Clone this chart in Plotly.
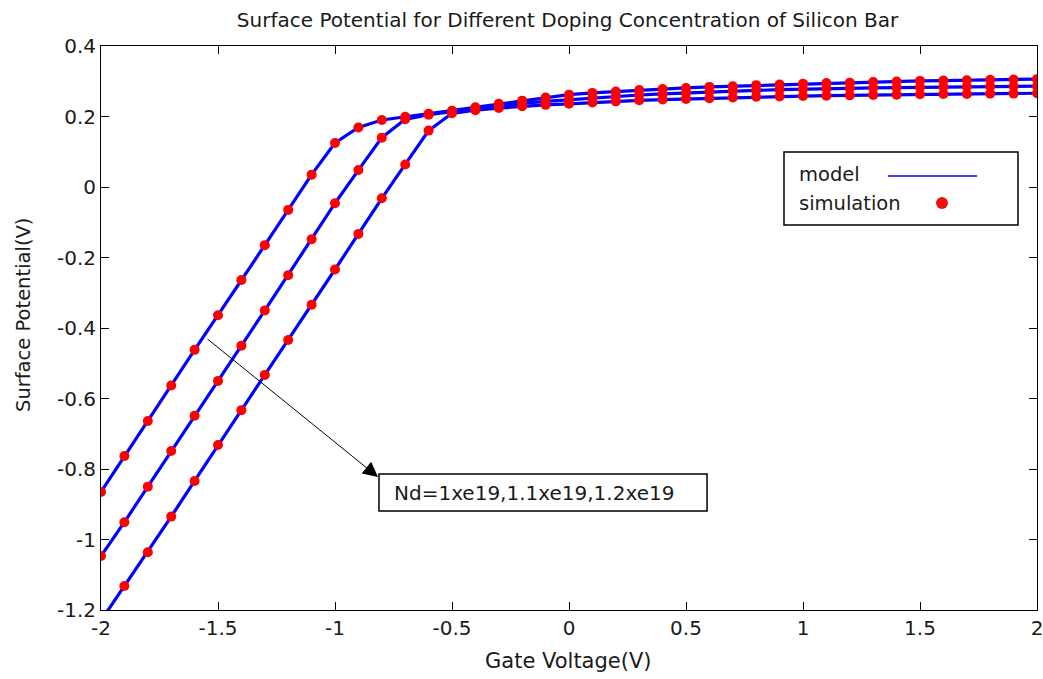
import plotly.graph_objects as go

# ---- data ----
gate_voltage = [round(-2.0 + 0.1 * i, 1) for i in range(41)]

psi_nd_1_0 = [-0.865, -0.763, -0.664, -0.563, -0.462, -0.364, -0.264, -0.165, -0.065, 0.035,
              0.125, 0.169, 0.190, 0.199, 0.208, 0.216, 0.226, 0.236, 0.245, 0.254,
              0.262, 0.267, 0.271, 0.275, 0.278, 0.281, 0.284, 0.286, 0.289, 0.291,
              0.293, 0.295, 0.296, 0.298, 0.299, 0.301, 0.302, 0.303, 0.304, 0.305, 0.306]

psi_nd_1_1 = [-1.047, -0.951, -0.850, -0.749, -0.649, -0.550, -0.450, -0.350, -0.250, -0.148,
              -0.046, 0.048, 0.140, 0.192, 0.205, 0.214, 0.222, 0.230, 0.237, 0.243,
              0.248, 0.253, 0.257, 0.261, 0.264, 0.267, 0.270, 0.272, 0.274, 0.276,
              0.278, 0.279, 0.280, 0.281, 0.282, 0.283, 0.284, 0.285, 0.285, 0.286, 0.286]

psi_nd_1_2 = [-1.230, -1.132, -1.036, -0.935, -0.834, -0.732, -0.633, -0.533, -0.434, -0.334,
              -0.234, -0.133, -0.032, 0.064, 0.160, 0.209, 0.218, 0.224, 0.229, 0.233,
              0.236, 0.240, 0.243, 0.246, 0.248, 0.250, 0.252, 0.254, 0.256, 0.257,
              0.258, 0.259, 0.260, 0.261, 0.262, 0.263, 0.264, 0.264, 0.265, 0.265, 0.266]

series = [psi_nd_1_0, psi_nd_1_1, psi_nd_1_2]

x_ticks = [-2, -1.5, -1, -0.5, 0, 0.5, 1, 1.5, 2]
x_tick_labels = ["-2", "-1.5", "-1", "-0.5", "0", "0.5", "1", "1.5", "2"]
y_ticks = [-1.2, -1, -0.8, -0.6, -0.4, -0.2, 0, 0.2, 0.4]
y_tick_labels = ["-1.2", "-1", "-0.8", "-0.6", "-0.4", "-0.2", "0", "0.2", "0.4"]

title_text = "Surface Potential for Different Doping Concentration of Silicon Bar"
x_title = "Gate Voltage(V)"
y_title = "Surface Potential(V)"
note_text = "Nd=1xe19,1.1xe19,1.2xe19"
legend_labels = ["model", "simulation"]

FONT = "DejaVu Sans, Verdana, sans-serif"
TXT = "#1a1a1a"

W, H = 1043, 679

fig = go.Figure()
for ys in series:
    fig.add_trace(go.Scatter(x=gate_voltage, y=ys, mode="lines",
                             line=dict(color="#0000FF", width=3.2),
                             showlegend=False, hoverinfo="skip"))
for ys in series:
    fig.add_trace(go.Scatter(x=gate_voltage, y=ys, mode="markers",
                             marker=dict(color="#FF0000", size=10),
                             showlegend=False, hoverinfo="skip"))

axis_common = dict(showgrid=False, zeroline=False, showline=True, linecolor="black",
                   linewidth=1, mirror="ticks", ticks="inside", ticklen=8,
                   tickcolor="black", automargin=False, ticklabeloverflow="allow",
                   tickfont=dict(family=FONT, size=20, color=TXT))

fig.update_layout(
    width=W, height=H,
    margin=dict(l=101, r=6, t=46, b=69),
    paper_bgcolor="white", plot_bgcolor="white",
    showlegend=False,
    title=dict(text=title_text, x=567.5 / W, xanchor="center", y=1 - 20 / H,
               yanchor="middle", yref="container",
               font=dict(family=FONT, size=20, color=TXT)),
    xaxis=dict(range=[-2, 2], tickvals=x_ticks, ticktext=x_tick_labels, **axis_common),
    yaxis=dict(range=[-1.2, 0.4], tickvals=y_ticks, ticktext=y_tick_labels, **axis_common),
)

# axis titles
fig.add_annotation(xref="paper", yref="paper", x=(568 - 101) / 936, y=(610 - 661) / 564,
                   xanchor="center", yanchor="middle", text=x_title, showarrow=False,
                   font=dict(family=FONT, size=21, color=TXT))
fig.add_annotation(xref="paper", yref="paper", x=(23 - 101) / 936, y=(610 - 315) / 564,
                   xanchor="center", yanchor="middle", text=y_title, showarrow=False,
                   textangle=-90, font=dict(family=FONT, size=19.5, color=TXT))

# custom legend (symbols to the right of labels)
fig.add_shape(type="rect", xref="paper", yref="paper", x0=0.7297, x1=0.9797,
              y0=0.6826, y1=0.8121, line=dict(color="black", width=1.5), fillcolor="white")
fig.add_annotation(xref="paper", yref="paper", x=0.7436, y=0.773, xanchor="left",
                   yanchor="middle", text=legend_labels[0], showarrow=False,
                   font=dict(family=FONT, size=19.5, color=TXT))
fig.add_annotation(xref="paper", yref="paper", x=0.7436, y=0.7216, xanchor="left",
                   yanchor="middle", text=legend_labels[1], showarrow=False,
                   font=dict(family=FONT, size=19.5, color=TXT))
fig.add_shape(type="line", xref="paper", yref="paper", x0=0.8408, x1=0.9359,
              y0=0.7695, y1=0.7695, line=dict(color="#0000FF", width=1.5))
fig.add_shape(type="circle", xref="paper", yref="paper", x0=0.8985 - 0.0064,
              x1=0.8985 + 0.0064, y0=0.7216 - 0.0106, y1=0.7216 + 0.0106,
              line=dict(color="#EE1111", width=0), fillcolor="#EE1111")

# note box and arrow
fig.add_shape(type="rect", xref="x", yref="y", x0=-0.812, x1=0.590, y0=-0.919, y1=-0.814,
              line=dict(color="black", width=1.5), fillcolor="white")
fig.add_annotation(xref="x", yref="y", x=-0.756, y=-0.867, xanchor="left", yanchor="middle",
                   text=note_text, showarrow=False,
                   font=dict(family=FONT, size=20, color=TXT))
fig.add_annotation(xref="x", yref="y", x=-0.816, y=-0.823, axref="x", ayref="y",
                   ax=-1.551, ay=-0.428, text="", showarrow=True, arrowhead=2,
                   arrowsize=3, arrowwidth=1, arrowcolor="black")

fig.write_html("out.html",
               config={"displayModeBar": False},
               post_script="document.body.style.margin='0px';"
                           "document.body.style.overflow='hidden';")
